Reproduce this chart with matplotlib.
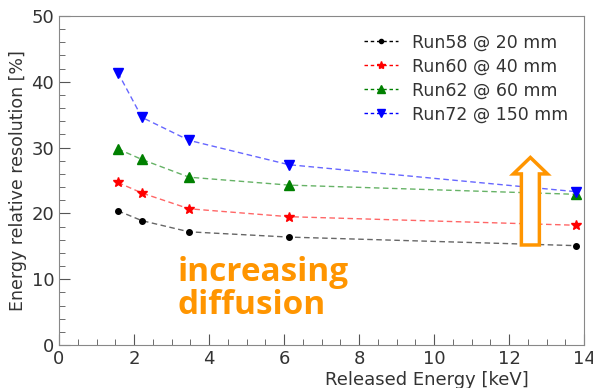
import matplotlib
matplotlib.use("Agg")

import matplotlib.pyplot as plt
from matplotlib.patches import FancyArrow
from matplotlib.ticker import MultipleLocator

energy = [1.57, 2.21, 3.47, 6.13, 13.79]

run58 = [20.4, 18.9, 17.2, 16.4, 15.1]
run60 = [24.7, 23.1, 20.7, 19.5, 18.2]
run62 = [29.8, 28.2, 25.5, 24.3, 22.9]
run72 = [41.4, 34.6, 31.1, 27.4, 23.3]

labels = ["Run58 @ 20 mm", "Run60 @ 40 mm", "Run62 @ 60 mm", "Run72 @ 150 mm"]
series = [run58, run60, run62, run72]
markers = ["o", "*", "^", "v"]
colors = ["black", "red", "green", "blue"]
msizes = [4, 7, 7, 7]

ORANGE = "#FF9500"
TEXT = "#333333"

fig = plt.figure(figsize=(5.93, 3.88), dpi=100)
ax = fig.add_axes([59 / 593, 1 - 345 / 388, 525 / 593, 329 / 388])

for vals, lab, mk, col, ms in zip(series, labels, markers, colors, msizes):
    ax.plot(energy, vals, linestyle=(0, (4, 2.5)), linewidth=1.0,
            color=col, alpha=0.6)
    ax.plot(energy, vals, linestyle="none", marker=mk, markersize=ms,
            color=col)

# legend proxies: short dashed line with a small marker in the middle
handles = []
for lab, mk, col, ms in zip(labels, markers, colors, msizes):
    h, = ax.plot([], [], linestyle=(0, (2.5, 2)), linewidth=1.0, color=col,
                 marker=mk, markersize=ms - 1, label=lab)
    handles.append(h)

ax.set_xlim(0, 14)
ax.set_ylim(0, 50)
ax.xaxis.set_major_locator(MultipleLocator(2))
ax.xaxis.set_minor_locator(MultipleLocator(0.5))
ax.yaxis.set_major_locator(MultipleLocator(10))
ax.yaxis.set_minor_locator(MultipleLocator(2))
ax.tick_params(which="both", direction="in", colors="#555555",
               labelcolor=TEXT, labelsize=13)
ax.tick_params(which="major", length=8)
ax.tick_params(which="minor", length=4)
for sp in ax.spines.values():
    sp.set_color("#888888")

ax.set_xlabel("Released Energy [keV]", fontsize=13, color=TEXT)
ax.xaxis.set_label_coords(0.70, -0.08)
ax.set_ylabel("Energy relative resolution [%]", fontsize=12.5, color=TEXT)
ax.yaxis.set_label_coords(-0.06, 0.5)

leg = ax.legend(handles, labels, loc="upper right", frameon=False,
                fontsize=12.5, handlelength=2.0, handletextpad=0.8,
                labelspacing=0.35, bbox_to_anchor=(1.0, 0.995))
for t in leg.get_texts():
    t.set_color(TEXT)

ax.text(3.15, 13.5, "increasing\ndiffusion", color=ORANGE, fontsize=24,
        fontweight="bold", family="Open Sans", ha="left", va="top",
        linespacing=1.0)

arrow = FancyArrow(12.57, 15.2, 0, 13.3, width=0.48, head_width=0.91,
                   head_length=2.5, length_includes_head=True,
                   facecolor="white", edgecolor=ORANGE, linewidth=2.5,
                   zorder=5)
ax.add_patch(arrow)

fig.savefig("out.png", dpi=100)
